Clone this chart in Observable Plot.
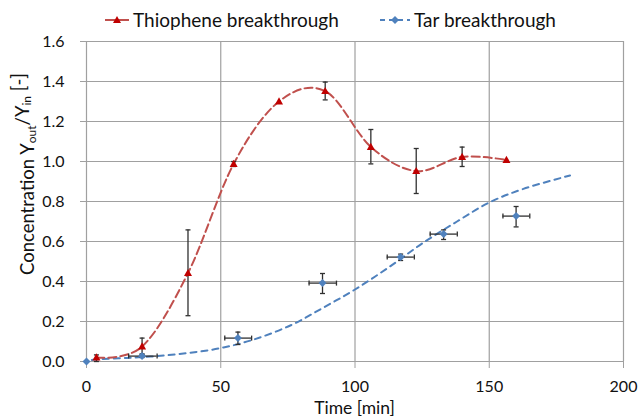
<!DOCTYPE html>
<html>
<head>
<meta charset="utf-8">
<script src="https://cdn.jsdelivr.net/npm/d3@7"></script>
<script src="https://cdn.jsdelivr.net/npm/@observablehq/plot@0.6"></script>
<style>
  body { margin: 0; background: #fff; font-family: Lato, "Open Sans", sans-serif; }
  #wrap { position: relative; width: 641px; height: 417px; }
  .leg { position: absolute; top: 8px; display: flex; align-items: center; font-size: 19px; color: #111; white-space: nowrap; }
  .leg svg { margin-right: 4px; }
</style>
</head>
<body>
<div id="wrap">
  <div class="leg" style="left:105px">
    <svg width="24" height="12"><line x1="0" y1="6" x2="24" y2="6" stroke="#c0504d" stroke-width="2"/><path d="M12,2 L16,9 L8,9 Z" fill="#c00000"/></svg>
    <span>Thiophene breakthrough</span>
  </div>
  <div class="leg" style="left:380px">
    <svg width="30" height="12"><line x1="0" y1="6" x2="30" y2="6" stroke="#4f81bd" stroke-width="2" stroke-dasharray="5,4"/><path d="M15,2 L19,6 L15,10 L11,6 Z" fill="#4f81bd"/></svg>
    <span>Tar breakthrough</span>
  </div>
</div>
<script>
// Thiophene breakthrough (red triangles, smoothed dashed line through the points)
const thioTime = [3.7, 20.7, 37.8, 54.8, 71.7, 88.9, 105.9, 122.8, 139.9, 156.4];
const thioConc = [0.02, 0.075, 0.442, 0.988, 1.30, 1.352, 1.073, 0.952, 1.023, 1.008];
const thioErrLow  = [0.0, 0.038, 0.229, 0.975, null, 1.308, 0.988, 0.84, 0.975, null];
const thioErrHigh = [0.033, 0.117, 0.658, 1.0, null, 1.397, 1.16, 1.065, 1.072, null];

// Tar breakthrough (blue diamonds, x and y error bars)
const tarTime = [0, 20.7, 56.4, 87.9, 117.0, 133.0, 160.0];
const tarConc = [0, 0.027, 0.117, 0.392, 0.522, 0.637, 0.727];
const tarTimeLow  = [null, 15.7, 51.5, 82.9, 112.0, 128.0, 155.1];
const tarTimeHigh = [null, 26.3, 61.5, 93.1, 122.1, 138.1, 165.1];
const tarConcLow  = [null, 0.02, 0.085, 0.34, 0.505, 0.61, 0.673];
const tarConcHigh = [null, 0.035, 0.147, 0.44, 0.537, 0.658, 0.775];

// Tar fitted curve (blue dashed)
const fitTime = [2, 5.2, 15, 26.3, 38, 50, 62.3, 75.9, 88.3, 100, 113, 125, 138, 150, 162.7, 180.1];
const fitConc = [0.008, 0.012, 0.018, 0.027, 0.043, 0.067, 0.11, 0.18, 0.27, 0.36, 0.475, 0.59, 0.70, 0.795, 0.863, 0.93];

const xTicks = [0, 50, 100, 150, 200];
const yTicks = [0, 0.2, 0.4, 0.6, 0.8, 1.0, 1.2, 1.4, 1.6];

const thio = thioTime.map((t, i) => ({t, c: thioConc[i], lo: thioErrLow[i], hi: thioErrHigh[i]}));
const tar = tarTime.map((t, i) => ({t, c: tarConc[i], tlo: tarTimeLow[i], thi: tarTimeHigh[i], lo: tarConcLow[i], hi: tarConcHigh[i]}));
const fit = fitTime.map((t, i) => ({t, c: fitConc[i]}));
const thioErr = thio.filter(d => d.lo != null);
const tarErr = tar.filter(d => d.lo != null);

const capH = {draw(ctx) { ctx.moveTo(-2.5, 0); ctx.lineTo(2.5, 0); }};
const capV = {draw(ctx) { ctx.moveTo(0, -2.5); ctx.lineTo(0, 2.5); }};
const diamond = {draw(ctx) { ctx.moveTo(0, -4); ctx.lineTo(4, 0); ctx.lineTo(0, 4); ctx.lineTo(-4, 0); ctx.closePath(); }};
const tri = {draw(ctx) { ctx.moveTo(0, -4.2); ctx.lineTo(4, 3); ctx.lineTo(-4, 3); ctx.closePath(); }};

const grid = "#a0a0a0";
const errColor = "#303030";

const chart = Plot.plot({
  width: 641,
  height: 417,
  marginLeft: 86,
  marginRight: 18,
  marginTop: 41,
  marginBottom: 56,
  style: {fontFamily: "Lato, 'Open Sans', sans-serif", fontSize: "16px", color: "#111", background: "#fff"},
  x: {domain: [0, 200]},
  y: {domain: [0, 1.6]},
  marks: [
    Plot.gridX(xTicks, {stroke: grid, strokeOpacity: 1, strokeWidth: 1.2}),
    Plot.gridY(yTicks, {stroke: grid, strokeOpacity: 1, strokeWidth: 1.2}),
    Plot.axisX({ticks: xTicks, tickSize: 7, tickPadding: 12, stroke: grid, label: null, fill: "#111"}),
    Plot.axisY({ticks: yTicks, tickSize: 6, tickPadding: 16, stroke: grid, label: null, tickFormat: d3.format(".1f"), fill: "#111"}),
    // blue fitted dashed curve
    Plot.line(fit, {x: "t", y: "c", curve: "catmull-rom", stroke: "#4f81bd", strokeWidth: 2, strokeDasharray: "6,5"}),
    // red smoothed dashed curve
    Plot.line(thio, {x: "t", y: "c", curve: "cardinal", tension: 0, stroke: "#c0504d", strokeWidth: 2, strokeDasharray: "8,4"}),
    // tar error bars
    Plot.ruleY(tarErr, {y: "c", x1: "tlo", x2: "thi", stroke: errColor, strokeWidth: 1.3}),
    Plot.ruleX(tarErr, {x: "t", y1: "lo", y2: "hi", stroke: errColor, strokeWidth: 1.3}),
    Plot.dot(tarErr, {x: "tlo", y: "c", symbol: capV, stroke: errColor, strokeWidth: 1.3, fill: "none"}),
    Plot.dot(tarErr, {x: "thi", y: "c", symbol: capV, stroke: errColor, strokeWidth: 1.3, fill: "none"}),
    Plot.dot(tarErr, {x: "t", y: "lo", symbol: capH, stroke: errColor, strokeWidth: 1.3, fill: "none"}),
    Plot.dot(tarErr, {x: "t", y: "hi", symbol: capH, stroke: errColor, strokeWidth: 1.3, fill: "none"}),
    // thiophene error bars
    Plot.ruleX(thioErr, {x: "t", y1: "lo", y2: "hi", stroke: errColor, strokeWidth: 1.3}),
    Plot.dot(thioErr, {x: "t", y: "lo", symbol: capH, stroke: errColor, strokeWidth: 1.3, fill: "none"}),
    Plot.dot(thioErr, {x: "t", y: "hi", symbol: capH, stroke: errColor, strokeWidth: 1.3, fill: "none"}),
    // markers
    Plot.dot(tar, {x: "t", y: "c", symbol: diamond, fill: "#4f81bd", stroke: "none"}),
    Plot.dot(thio, {x: "t", y: "c", symbol: tri, fill: "#c00000", stroke: "none"})
  ]
});

const svg = d3.select(chart);
// y-axis title with subscripts
const yl = svg.append("text")
  .attr("transform", "translate(27,174) rotate(-90)")
  .attr("text-anchor", "middle")
  .attr("dominant-baseline", "central")
  .attr("fill", "#111")
  .style("font-size", "18.5px");
yl.append("tspan").text("Concentration Y");
yl.append("tspan").text("out").attr("dy", "0.3em").style("font-size", "12px");
yl.append("tspan").text("/Y").attr("dy", "-0.45em");
yl.append("tspan").text("in").attr("dy", "0.3em").style("font-size", "12px");
yl.append("tspan").text(" [-]").attr("dy", "-0.45em");
// x-axis title
svg.append("text")
  .attr("x", 354.5).attr("y", 407)
  .attr("text-anchor", "middle")
  .attr("dominant-baseline", "central")
  .attr("fill", "#111")
  .style("font-size", "17.5px")
  .text("Time [min]");

document.getElementById("wrap").prepend(chart);
chart.style.position = "absolute";
chart.style.left = "0";
chart.style.top = "0";
</script>
</body>
</html>
